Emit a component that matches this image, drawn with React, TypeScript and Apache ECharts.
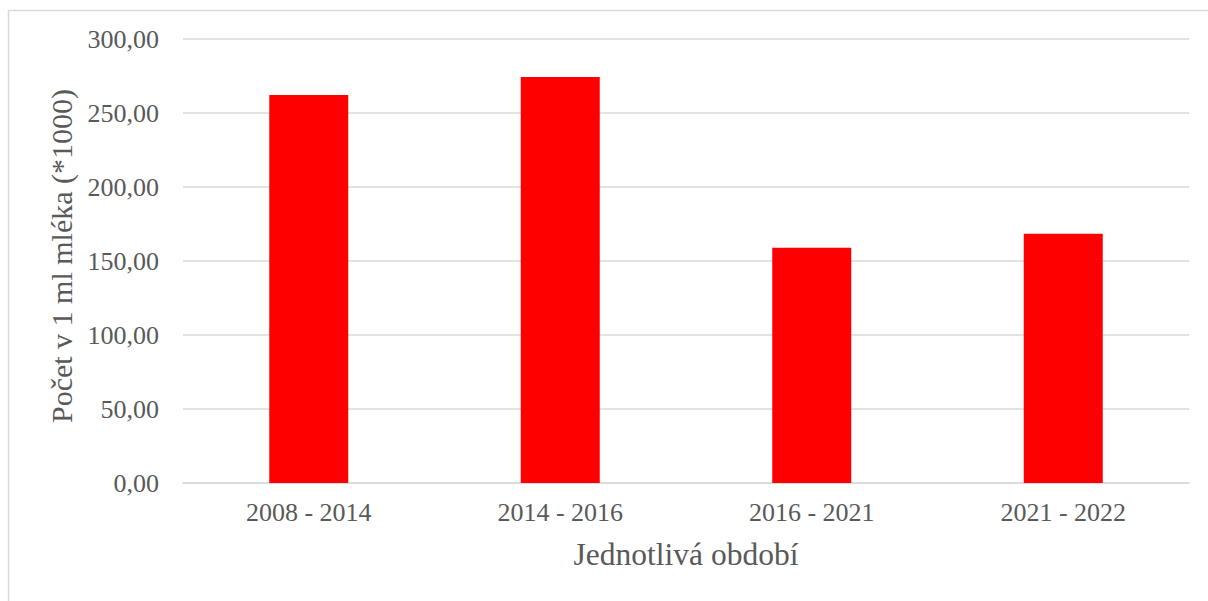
import React, { useEffect, useRef } from "react";
import * as echarts from "echarts";

const categories: string[] = ["2008 - 2014", "2014 - 2016", "2016 - 2021", "2021 - 2022"];
const values: number[] = [262.2, 274.3, 159.0, 168.4];
const yTicks = { min: 0, max: 300, interval: 50 };
const xTitle = "Jednotlivá období";
const yTitle = "Počet v 1 ml mléka (*1000)";

const FONT = "'Liberation Serif', 'Times New Roman', serif";
const TEXT = "#595959";
const GRID = "#d9d9d9";

export default function App() {
  const ref = useRef<HTMLDivElement>(null);
  useEffect(() => {
    if (!ref.current) return;
    const chart = echarts.init(ref.current, undefined, { renderer: "svg" });
    chart.setOption({
      animation: false,
      backgroundColor: "#ffffff",
      textStyle: { fontFamily: FONT },
      graphic: [
        { type: "line", shape: { x1: 8.5, y1: 10, x2: 8.5, y2: 601 }, style: { stroke: GRID, lineWidth: 1.5 } },
        { type: "line", shape: { x1: 8, y1: 10.5, x2: 1208, y2: 10.5 }, style: { stroke: GRID, lineWidth: 1.5 } },
      ],
      grid: { left: 183, right: 19, top: 39, bottom: 118 },
      xAxis: {
        type: "category",
        data: categories,
        name: xTitle,
        nameLocation: "middle",
        nameGap: 55,
        nameTextStyle: { color: TEXT, fontSize: 31.5, fontFamily: FONT },
        axisLine: { lineStyle: { color: GRID, width: 1.5 } },
        axisTick: { show: false },
        axisLabel: { color: TEXT, fontSize: 26, fontFamily: FONT, margin: 16 },
      },
      yAxis: {
        type: "value",
        min: yTicks.min,
        max: yTicks.max,
        interval: yTicks.interval,
        name: yTitle,
        nameLocation: "middle",
        nameGap: 101,
        nameTextStyle: { color: TEXT, fontSize: 30, fontFamily: FONT, padding: [0, 0, 0, 10] },
        axisLine: { show: false },
        axisTick: { show: false },
        axisLabel: {
          color: TEXT,
          fontSize: 26,
          fontFamily: FONT,
          margin: 24,
          formatter: (v: number) => v.toFixed(2).replace(".", ","),
        },
        splitLine: { lineStyle: { color: GRID, width: 1.5 } },
      },
      series: [
        {
          type: "bar",
          data: values,
          barWidth: 79,
          itemStyle: { color: "#ff0000" },
        },
      ],
    });
    return () => chart.dispose();
  }, []);
  return (
    <div
      ref={ref}
      style={{ position: "fixed", left: 0, top: 0, width: 1208, height: 601 }}
    />
  );
}
